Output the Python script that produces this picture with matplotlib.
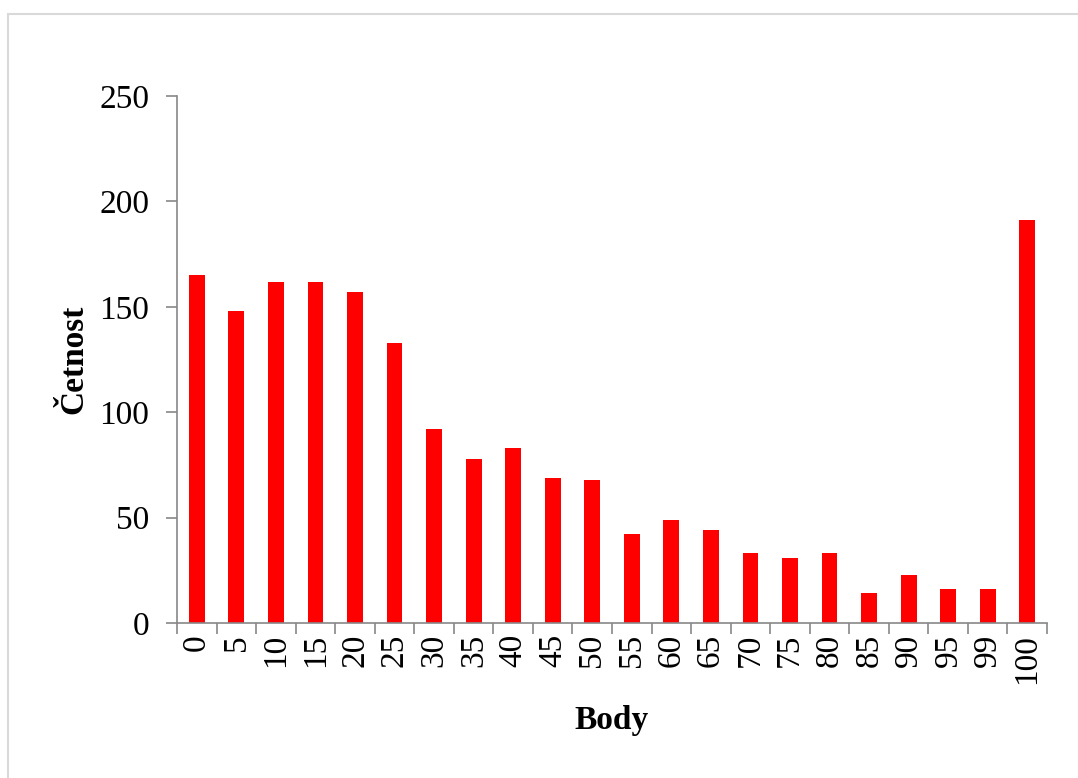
import matplotlib
matplotlib.use("Agg")
import matplotlib.pyplot as plt
from matplotlib.patches import Rectangle
import numpy as np

categories = ["0", "5", "10", "15", "20", "25", "30", "35", "40", "45", "50",
              "55", "60", "65", "70", "75", "80", "85", "90", "95", "99", "100"]
counts = [165, 148, 162, 162, 157, 133, 92, 78, 83, 69, 68,
          42, 49, 44, 33, 31, 33, 14, 23, 16, 16, 191]
y_ticks = [0, 50, 100, 150, 200, 250]

plt.rcParams['font.family'] = ['Liberation Serif', 'DejaVu Serif']

W, H = 1078, 778
fig = plt.figure(figsize=(W / 100, H / 100), dpi=100)
fig.patch.set_facecolor('white')

# outer chart border (light gray), open at right/bottom as in the reference
fig.add_artist(Rectangle((8 / W, -0.05), 1.2, 1 - 14 / H + 0.05,
                         transform=fig.transFigure, fill=False,
                         edgecolor='#d9d9d9', linewidth=1.5))

ax = fig.add_axes([177 / W, 1 - 623 / H, (1047 - 177) / W, (623 - 96) / H])
x = np.arange(len(categories))
ax.bar(x, counts, width=0.4, color='#ff0000', edgecolor='#ff0000', linewidth=0)

ax.set_xlim(-0.5, len(categories) - 0.5)
ax.set_ylim(0, 250)
ax.set_yticks(y_ticks)
ax.set_yticklabels([str(v) for v in y_ticks], fontsize=24)
ax.set_xticks(np.arange(len(categories) + 1) - 0.5)
ax.set_xticklabels([])
ax.set_xticks(x, minor=True)
ax.set_xticklabels(categories, minor=True, rotation=90, fontsize=24)
ax.tick_params(axis='x', which='minor', length=0, pad=8)
ax.tick_params(axis='x', which='major', length=8, color='#888888', width=1.2)
ax.tick_params(axis='y', length=8, color='#888888', width=1.2, pad=12)

for s in ['top', 'right']:
    ax.spines[s].set_visible(False)
for s in ['left', 'bottom']:
    ax.spines[s].set_color('#888888')
    ax.spines[s].set_linewidth(1.2)

ax.set_xlabel('Body', fontsize=24, fontweight='bold', labelpad=15)
ax.set_ylabel('Četnost', fontsize=24, fontweight='bold', labelpad=7)

fig.savefig('out.png', dpi=100)
